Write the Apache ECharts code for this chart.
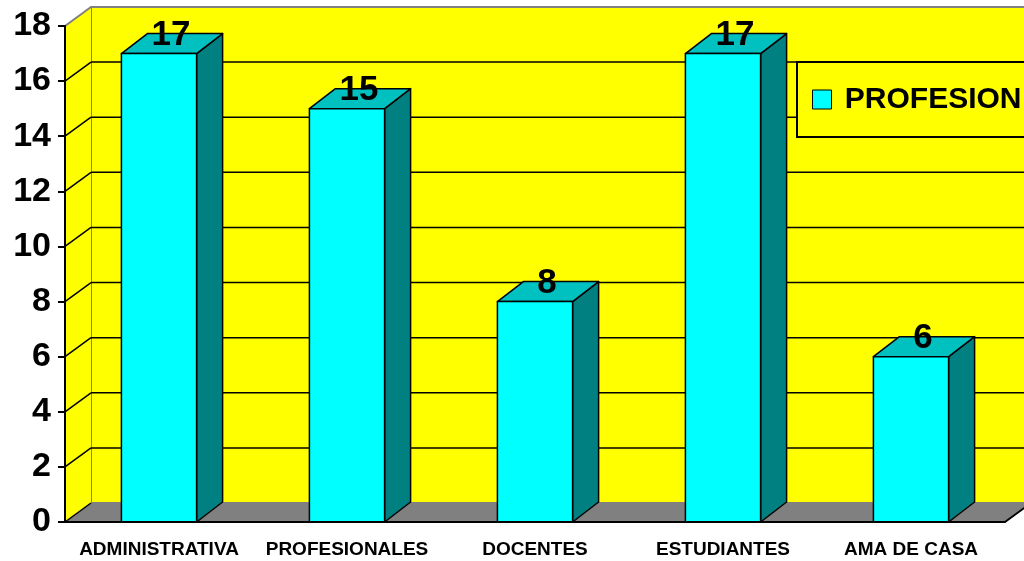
<!DOCTYPE html>
<html><head><meta charset="utf-8">
<script src="https://cdn.jsdelivr.net/npm/echarts@6/dist/echarts.min.js"></script>
<style>html,body{margin:0;padding:0;background:#fff}#c{width:1024px;height:561px}</style>
</head><body><div id="c"></div>
<script>
var categories = ['ADMINISTRATIVA', 'PROFESIONALES', 'DOCENTES', 'ESTUDIANTES', 'AMA DE CASA'];
var values = [17, 15, 8, 17, 6];
var yTicks = [0, 2, 4, 6, 8, 10, 12, 14, 16, 18];
var seriesName = 'PROFESION';

var FONT = 'Arial, "Liberation Sans", sans-serif';
var WDX = 26, WDY = -19;   // depth of walls
var BDX = 26, BDY = -20;   // depth of bars

var chart = echarts.init(document.getElementById('c'), null, {renderer: 'canvas'});

function renderScene(params, api) {
  var cs = params.coordSys;
  var x0 = cs.x, x1 = cs.x + cs.width;
  var yb = api.coord([0, 0])[1];
  var yt = api.coord([0, 18])[1];
  var ch = [];
  ch.push({type: 'rect', shape: {x: x0 + WDX, y: yt + WDY, width: cs.width, height: yb - yt},
    style: {fill: '#FFFF00', stroke: '#808080', lineWidth: 2}});
  ch.push({type: 'polygon', shape: {points: [[x0, yt], [x0 + WDX, yt + WDY], [x0 + WDX, yb + WDY], [x0, yb]]},
    style: {fill: '#FFFF00', stroke: null}});
  ch.push({type: 'line', shape: {x1: x0, y1: yt, x2: x0 + WDX, y2: yt + WDY},
    style: {stroke: '#808080', lineWidth: 2}});
  ch.push({type: 'polygon', shape: {points: [[x0, yb], [x0 + WDX, yb + WDY], [x1 + WDX, yb + WDY], [x1, yb]]},
    style: {fill: '#808080', stroke: null}});
  ch.push({type: 'line', shape: {x1: x1, y1: yb, x2: x1 + WDX, y2: yb + WDY},
    style: {stroke: '#000', lineWidth: 2}});
  yTicks.forEach(function (v) {
    var y = api.coord([0, v])[1];
    if (v < 18) {
      ch.push({type: 'line', shape: {x1: x0, y1: y, x2: x0 + WDX, y2: y + WDY},
        style: {stroke: '#000', lineWidth: 1.5}});
    }
    if (v > 0 && v < 18) {
      ch.push({type: 'line', shape: {x1: x0 + WDX, y1: y + WDY, x2: x1 + WDX, y2: y + WDY},
        style: {stroke: '#000', lineWidth: 1.5}});
    }
  });
  return {type: 'group', children: ch};
}

function renderBar(params, api) {
  var idx = api.value(0), val = api.value(1);
  var top = api.coord([idx, val]);
  var base = api.coord([idx, 0]);
  var bw = api.size([1, 0])[0] * 0.4;
  var xl = top[0] - bw / 2, xr = top[0] + bw / 2;
  var yT = top[1], yB = base[1];
  var st = {stroke: '#000', lineWidth: 1.5, lineJoin: 'round'};
  return {type: 'group', children: [
    {type: 'polygon', shape: {points: [[xr, yT], [xr + BDX, yT + BDY], [xr + BDX, yB + BDY], [xr, yB]]},
      style: Object.assign({fill: '#008080'}, st)},
    {type: 'polygon', shape: {points: [[xl, yT], [xl + BDX, yT + BDY], [xr + BDX, yT + BDY], [xr, yT]]},
      style: Object.assign({fill: '#00C0C0'}, st)},
    {type: 'rect', shape: {x: xl, y: yT, width: bw, height: yB - yT},
      style: Object.assign({fill: '#00FFFF'}, st)},
    {type: 'text', x: top[0] + BDX / 2 - 1, y: yT - 1,
      style: {text: String(val), fill: '#000', font: 'bold 35px ' + FONT, align: 'center', verticalAlign: 'bottom'}}
  ]};
}

var option = {
  backgroundColor: '#fff',
  animation: false,
  grid: {left: 65, top: 26, width: 940, height: 496},
  legend: {
    left: 797, top: 62,
    data: [{name: seriesName, icon: 'rect', itemStyle: {color: '#00FFFF', borderColor: '#000', borderWidth: 1}}],
    formatter: function (n) { return ' ' + n; },
    itemWidth: 19, itemHeight: 19, itemGap: 6,
    backgroundColor: '#FFFF00', borderColor: '#000', borderWidth: 2,
    padding: [22, 30, 22, 15],
    textStyle: {fontSize: 30, fontWeight: 'bold', color: '#000', fontFamily: FONT, lineHeight: 31},
    z: 20
  },
  xAxis: {
    type: 'category', data: categories, z: 10,
    axisLine: {lineStyle: {color: '#000', width: 2}},
    axisTick: {length: 8, lineStyle: {color: '#000', width: 2}},
    axisLabel: {color: '#000', fontSize: 19, fontWeight: 'bold', fontFamily: FONT, margin: 18, interval: 0}
  },
  yAxis: {
    type: 'value', min: 0, max: 18, interval: 2, z: 10,
    axisLine: {show: true, lineStyle: {color: '#000', width: 2}},
    axisTick: {show: true, length: 7, lineStyle: {color: '#000', width: 2}},
    axisLabel: {color: '#000', fontSize: 34, fontWeight: 'bold', fontFamily: FONT, margin: 14},
    splitLine: {show: false}
  },
  series: [
    {type: 'custom', name: 'scene', silent: true, z: 1, renderItem: renderScene,
      data: [[0, 0]], encode: {x: 0, y: 1}, clip: false},
    {type: 'custom', name: seriesName, z: 3, renderItem: renderBar, clip: false,
      itemStyle: {color: '#00FFFF'},
      data: values.map(function (v, i) { return [i, v]; }), encode: {x: 0, y: 1}}
  ]
};
chart.setOption(option);
</script>
</body></html>
